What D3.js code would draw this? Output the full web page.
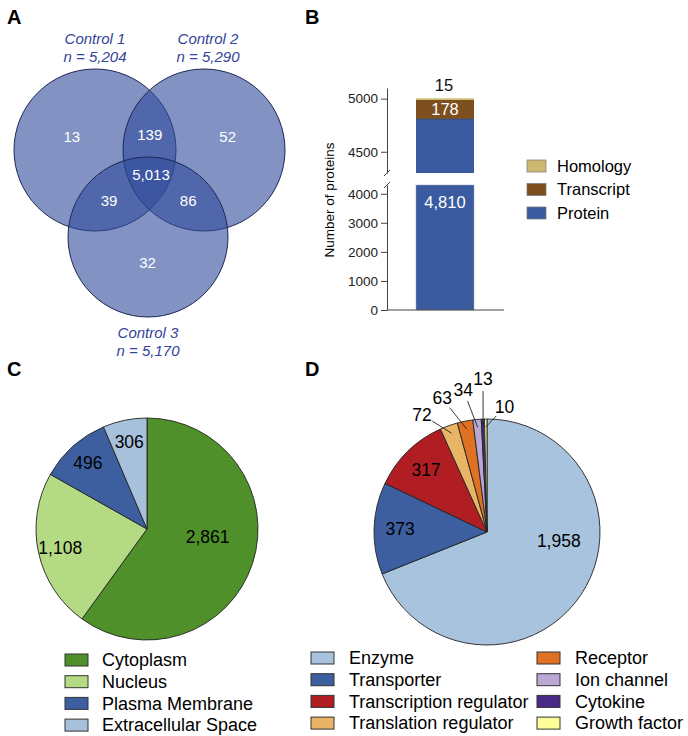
<!DOCTYPE html>
<html>
<head>
<meta charset="utf-8">
<script src="https://cdn.jsdelivr.net/npm/d3@7"></script>
<style>
  body { margin: 0; background: #fff; }
  svg { font-family: "Liberation Sans", Arial, sans-serif; }
</style>
</head>
<body>
<div id="chart"></div>
<script>
// ---- data ----
var vennSets = ["Control 1", "Control 2", "Control 3"];
var vennTotals = [5204, 5290, 5170];
// regions: only1, only2, only3, 1&2, 1&3, 2&3, all
var vennRegions = [
  {sets: [0], n: 13}, {sets: [1], n: 52}, {sets: [2], n: 32},
  {sets: [0, 1], n: 139}, {sets: [0, 2], n: 39}, {sets: [1, 2], n: 86},
  {sets: [0, 1, 2], n: 5013}
];

var evidenceNames = ["Protein", "Transcript", "Homology"];
var evidenceValues = [4810, 178, 15];
var evidenceColors = ["#3a5ba0", "#7d4e1e", "#cdb870"];
var bTicksLow = [0, 1000, 2000, 3000, 4000];
var bTicksHigh = [4500, 5000];

var locNames = ["Cytoplasm", "Nucleus", "Plasma Membrane", "Extracellular Space"];
var locValues = [2861, 1108, 496, 306];
var locColors = ["#4f902b", "#b4db84", "#3d5fa0", "#a7c1dc"];

var funcNames = ["Enzyme", "Transporter", "Transcription regulator", "Translation regulator",
                 "Receptor", "Ion channel", "Cytokine", "Growth factor"];
var funcValues = [1958, 373, 317, 72, 63, 34, 13, 10];
var funcColors = ["#a8c3dd", "#3d5fa0", "#b01e23", "#e8b466", "#df7222", "#b9a7d4", "#4a2a88", "#ffff99"];

var fmt = d3.format(",");

var svg = d3.select("#chart").append("svg")
    .attr("width", 688).attr("height", 736);

// panel letters
[["A", 7, 24], ["B", 305, 24], ["C", 7, 376], ["D", 305, 376]].forEach(function(p){
  svg.append("text").attr("x", p[1]).attr("y", p[2])
    .attr("font-size", 20).attr("font-weight", "bold").text(p[0]);
});

// ---------------- A: Venn ----------------
var circles = [{cx: 95, cy: 150, r: 81}, {cx: 204, cy: 150, r: 81}, {cx: 148, cy: 237, r: 80}];
var vA = svg.append("g");
vA.selectAll("circle").data(circles).enter().append("circle")
  .attr("cx", function(d){ return d.cx; })
  .attr("cy", function(d){ return d.cy; })
  .attr("r", function(d){ return d.r; })
  .attr("fill", "#2e4b9b").attr("fill-opacity", 0.6)
  .attr("stroke", "#1c2654").attr("stroke-width", 1);

var gx = d3.mean(circles, function(d){ return d.cx; }),
    gy = d3.mean(circles, function(d){ return d.cy; });

vA.selectAll(".reg").data(vennRegions).enter().append("text")
  .attr("class", "reg")
  .attr("fill", "#fff").attr("font-size", 15).attr("text-anchor", "middle").attr("dy", "0.35em")
  .attr("x", function(d){ return regionPos(d)[0]; })
  .attr("y", function(d){ return regionPos(d)[1]; })
  .text(function(d){ return fmt(d.n); });

function regionPos(d){
  if (d.sets.length == 1) {
    var c = circles[d.sets[0]];
    return [c.cx + (c.cx - gx) * 0.43, c.cy + (c.cy - gy) * 0.45];
  } else if (d.sets.length == 2) {
    var a = circles[d.sets[0]], b = circles[d.sets[1]];
    var other = circles[3 - d.sets[0] - d.sets[1]];
    var mx = (a.cx + b.cx) / 2, my = (a.cy + b.cy) / 2;
    return [mx + (mx - other.cx) * 0.15, my + (my - other.cy) * 0.17];
  }
  return [gx + 2, gy - 4];
}

var setLabelPos = [[95, 39], [208, 39], [148, 333]];
vennSets.forEach(function(s, i){
  var t = svg.append("text").attr("text-anchor", "middle")
    .attr("font-size", 15).attr("font-style", "italic").attr("fill", "#34449a");
  t.append("tspan").attr("x", setLabelPos[i][0]).attr("y", setLabelPos[i][1] + 5).text(s);
  t.append("tspan").attr("x", setLabelPos[i][0]).attr("y", setLabelPos[i][1] + 23).text("n = " + fmt(vennTotals[i]));
});

// ---------------- B: stacked bar with broken axis ----------------
var bx0 = 387, bBarX = 416, bBarW = 58;
var yLow = d3.scaleLinear().domain([0, 4300]).range([310, 185]);
var yHigh = d3.scaleLinear().domain([4300, 5100]).range([173, 88]);

var stack = [];
var acc = 0;
evidenceValues.forEach(function(v, i){
  stack.push({name: evidenceNames[i], start: acc, end: acc + v, value: v, color: evidenceColors[i]});
  acc += v;
});

var gB = svg.append("g").attr("font-size", 13.5);
// lower segment: protein bar clipped at 4300
gB.append("rect")
  .attr("x", bBarX).attr("width", bBarW)
  .attr("y", yLow(Math.min(stack[0].end, 4300)))
  .attr("height", yLow(0) - yLow(Math.min(stack[0].end, 4300)))
  .attr("fill", stack[0].color).attr("stroke", "#9aa3b8").attr("stroke-width", 0.5);
// upper segment
gB.selectAll(".up").data(stack).enter().append("rect")
  .attr("class", "up")
  .attr("x", bBarX).attr("width", bBarW)
  .attr("y", function(d){ return yHigh(d.end); })
  .attr("height", function(d){ return yHigh(Math.max(d.start, 4300)) - yHigh(d.end); })
  .attr("fill", function(d){ return d.color; });
gB.append("line").attr("x1", bBarX).attr("x2", bBarX + bBarW)
  .attr("y1", yHigh(stack[1].start)).attr("y2", yHigh(stack[1].start))
  .attr("stroke", "#333").attr("stroke-width", 0.6);

var axLow = d3.axisLeft(yLow).tickValues(bTicksLow).tickFormat(d3.format("d"))
  .tickSize(6).tickPadding(3).tickSizeOuter(0);
var axHigh = d3.axisLeft(yHigh).tickValues(bTicksHigh).tickFormat(d3.format("d"))
  .tickSize(6).tickPadding(3).tickSizeOuter(0);
[gB.append("g").attr("transform", "translate(" + bx0 + ",0)").call(axLow),
 gB.append("g").attr("transform", "translate(" + bx0 + ",0)").call(axHigh)].forEach(function(a){
  a.select(".domain").attr("stroke", "#444");
  a.selectAll(".tick line").attr("stroke", "#444");
  a.selectAll(".tick text").attr("font-size", 13.5).attr("fill", "#222")
    .attr("font-family", "Liberation Sans, Arial, sans-serif");
});
// x axis baseline
gB.append("line").attr("x1", bx0).attr("x2", 504).attr("y1", yLow(0)).attr("y2", yLow(0))
  .attr("stroke", "#444");
// break marks
[yHigh(4300), yLow(4300)].forEach(function(y){
  gB.append("line").attr("x1", bx0 - 3).attr("x2", bx0 + 3).attr("y1", y + 3).attr("y2", y - 3)
    .attr("stroke", "#444");
});
gB.append("text").attr("transform", "translate(334," + 200 + ") rotate(-90)")
  .attr("text-anchor", "middle").attr("font-size", 13.5).text("Number of proteins");

// bar labels
gB.append("text").attr("x", bBarX + bBarW / 2).attr("y", yLow(4300) + 17)
  .attr("text-anchor", "middle").attr("dy", "0.35em").attr("font-size", 16.5).attr("fill", "#fff")
  .text(fmt(stack[0].value));
gB.append("text").attr("x", bBarX + bBarW / 2).attr("y", (yHigh(stack[1].start) + yHigh(stack[1].end)) / 2)
  .attr("text-anchor", "middle").attr("dy", "0.35em").attr("font-size", 16.5).attr("fill", "#fff")
  .text(fmt(stack[1].value));
gB.append("text").attr("x", bBarX + bBarW / 2 - 1).attr("y", yHigh(stack[2].end) - 13)
  .attr("text-anchor", "middle").attr("dy", "0.35em").attr("font-size", 16.5).attr("fill", "#111")
  .text(fmt(stack[2].value));

// legend B (top to bottom reversed)
var legB = gB.selectAll(".legB").data(stack.slice().reverse()).enter().append("g")
  .attr("transform", function(d, i){ return "translate(527," + (166 + i * 23.5) + ")"; });
legB.append("rect").attr("x", 0).attr("y", -6).attr("width", 19).attr("height", 12)
  .attr("fill", function(d){ return d.color; }).attr("stroke", "#777").attr("stroke-width", 0.7);
legB.append("text").attr("x", 30).attr("dy", "0.35em").attr("font-size", 16.5).text(function(d){ return d.name; });

// ---------------- pies ----------------
var pie = d3.pie().sort(null).value(function(d){ return d; });

function drawPie(cx, cy, r, values, colors, opts){
  var g = svg.append("g").attr("transform", "translate(" + cx + "," + cy + ")");
  var arcs = pie(values);
  var arc = d3.arc().innerRadius(0).outerRadius(r);
  g.selectAll("path").data(arcs).enter().append("path")
    .attr("d", arc)
    .attr("fill", function(d, i){ return colors[i]; })
    .attr("stroke", "#222").attr("stroke-width", 0.9);
  var total = d3.sum(values);
  arcs.forEach(function(d, i){
    var frac = d.value / total;
    if (frac < opts.minInside) return;
    var big = frac > 0.5;
    var lr = big ? opts.bigR * r : opts.smallR * r;
    // big slice labels sit just below the horizontal on the right
    var a = big ? 97 * Math.PI / 180 : (d.startAngle + d.endAngle) / 2;
    g.append("text")
      .attr("x", Math.sin(a) * lr).attr("y", -Math.cos(a) * lr)
      .attr("text-anchor", "middle").attr("dy", "0.35em").attr("font-size", 17.5)
      .text(fmt(d.value));
  });
  return {g: g, arcs: arcs};
}

// C
drawPie(147, 529, 111, locValues, locColors, {minInside: 0, bigR: 0.55, smallR: 0.8});
var legC = svg.selectAll(".legC").data(locNames).enter().append("g")
  .attr("transform", function(d, i){ return "translate(65," + (660 + i * 21.7) + ")"; });
legC.append("rect").attr("y", -6).attr("width", 23).attr("height", 12)
  .attr("fill", function(d, i){ return locColors[i]; }).attr("stroke", "#333").attr("stroke-width", 1);
legC.append("text").attr("x", 37).attr("dy", "0.35em").attr("font-size", 18).text(function(d){ return d; });

// D
var pD = drawPie(487, 532, 113, funcValues, funcColors, {minInside: 0.08, bigR: 0.64, smallR: 0.77});
// callout labels for thin slices: polar label position [angle deg, radius]
var calloutLayout = [[331, 134], [341.5, 141], [350.5, 144], [358.5, 153], [8, 126]];
var small = pD.arcs.filter(function(d){ return d.value / d3.sum(funcValues) < 0.08; });
small.forEach(function(d, i){
  var la = calloutLayout[i][0] * Math.PI / 180, lr = calloutLayout[i][1];
  var lx = Math.sin(la) * lr, ly = -Math.cos(la) * lr;
  var ma = (d.startAngle + d.endAngle) / 2, tr = 113 * 0.93;
  var tx = Math.sin(ma) * tr, ty = -Math.cos(ma) * tr;
  var dx = tx - lx, dy = ty - ly, len = Math.sqrt(dx * dx + dy * dy);
  pD.g.append("line")
    .attr("x1", lx + dx / len * 12).attr("y1", ly + dy / len * 12)
    .attr("x2", tx).attr("y2", ty)
    .attr("stroke", "#222").attr("stroke-width", 0.9);
  pD.g.append("text").attr("x", lx).attr("y", ly)
    .attr("text-anchor", "middle").attr("dy", "0.35em").attr("font-size", 17.5)
    .text(fmt(d.value));
});

var legD = svg.selectAll(".legD").data(funcNames).enter().append("g")
  .attr("transform", function(d, i){
    var col = Math.floor(i / 4), row = i % 4;
    return "translate(" + (col ? 537 : 311) + "," + (658 + row * 21.7) + ")";
  });
legD.append("rect").attr("y", -6).attr("width", 23).attr("height", 12)
  .attr("fill", function(d, i){ return funcColors[i]; }).attr("stroke", "#333").attr("stroke-width", 1);
legD.append("text").attr("x", 38).attr("dy", "0.35em")
  .attr("font-size", 18).text(function(d){ return d; });
</script>
</body>
</html>
